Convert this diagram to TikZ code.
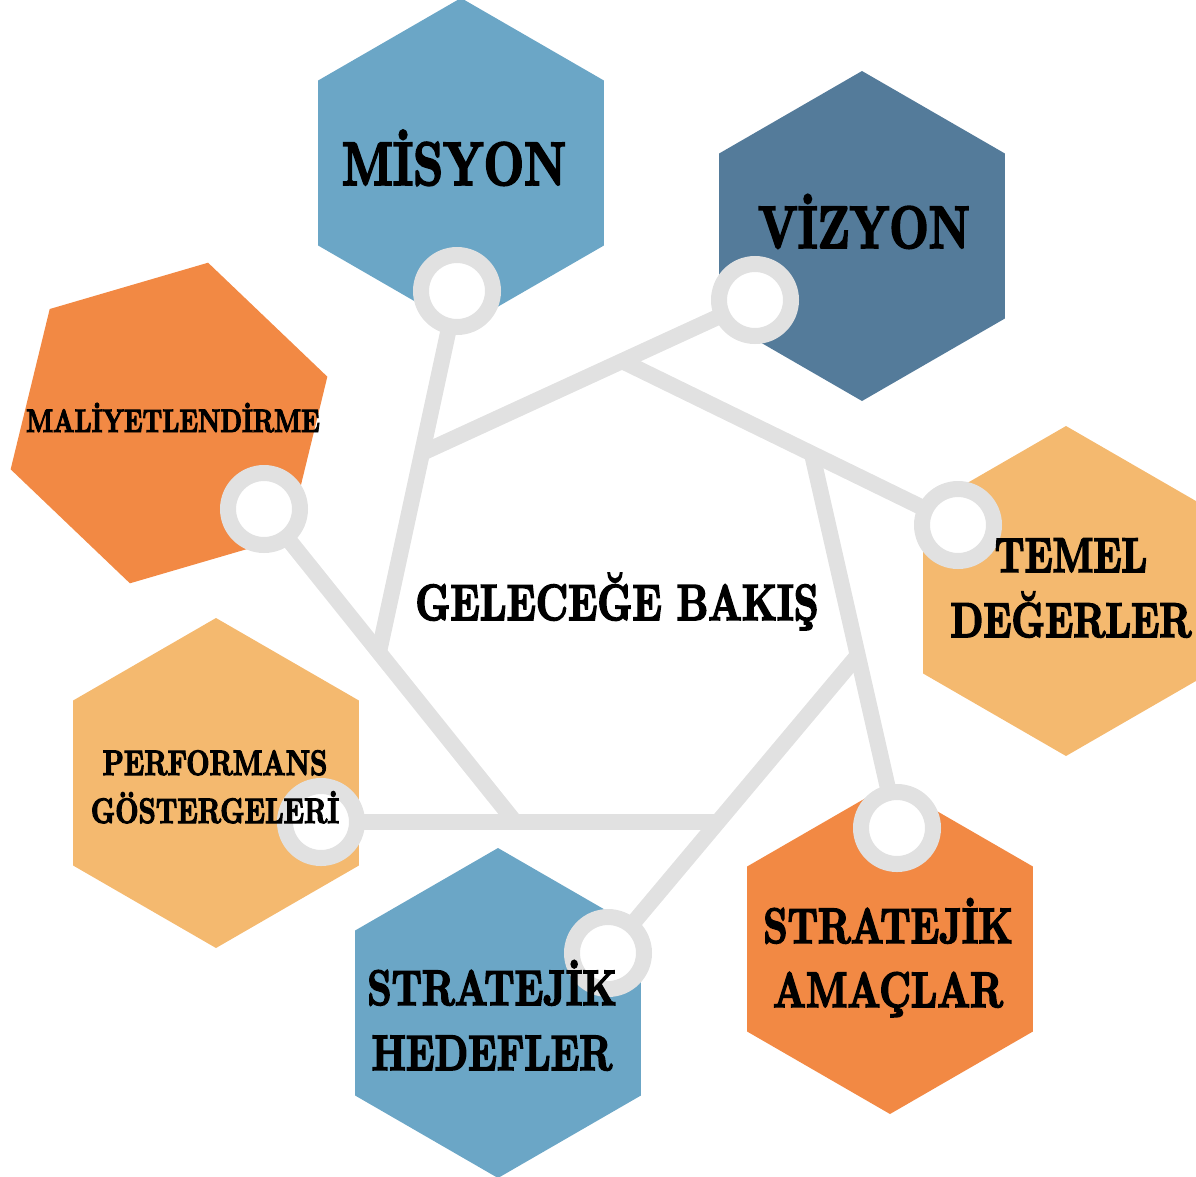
\documentclass[tikz,border=0pt]{standalone}
\usepackage{fontspec}
\usetikzlibrary{shapes.geometric}
\newfontfamily\playfair{lmroman10-bold.otf}[FakeStretch=0.76,FakeBold=3]
\definecolor{hexblue}{HTML}{6BA6C6}
\definecolor{hexnavy}{HTML}{547B9A}
\definecolor{hexsand}{HTML}{F4B96F}
\definecolor{hexorange}{HTML}{F28944}
\definecolor{linegrey}{HTML}{E1E1E1}
\begin{document}
\begin{tikzpicture}[x=1pt,y=-1pt,
	hexa/.style={regular polygon,regular polygon sides=6,shape border rotate=30,minimum size=330pt,inner sep=0pt,outer sep=0pt},
	ring/.style={circle,draw=linegrey,line width=16pt,fill=white,minimum size=72pt,inner sep=0pt},
	bar/.style={draw=linegrey,line width=16pt},
	lbl/.style={font=\playfair,align=center,inner sep=0pt,anchor=base}]
	\useasboundingbox (0,0) rectangle (1196,1176);
	
	% hexagons
	\node[hexa,fill=hexblue] (misyon-hex) at (461,163) {};
	\node[hexa,fill=hexnavy] (vizyon-hex) at (862,236) {};
	\node[hexa,fill=hexsand] (temel-hex) at (1066,591) {};
	\node[hexa,fill=hexorange] (amac-hex) at (890,949) {};
	\node[hexa,fill=hexblue] (hedef-hex) at (498,1013) {};
	\node[hexa,fill=hexsand] (perf-hex) at (216,783) {};
	\node[hexa,fill=hexorange,shape border rotate=16.3] (maliyet-hex) at (169,423) {};
	
	% ring centres
	\coordinate (misyon) at (457,291);
	\coordinate (vizyon) at (755,300);
	\coordinate (temel) at (958,525);
	\coordinate (amac) at (897,828);
	\coordinate (hedef) at (608,953);
	\coordinate (perf) at (321,822);
	\coordinate (maliyet) at (264,509);
	
	% corners of the middle
	\coordinate (A) at (622,361);
	\coordinate (B) at (812,454);
	\coordinate (C) at (858,655);
	\coordinate (D) at (718,822);
	\coordinate (E) at (515,822);
	\coordinate (F) at (379,652);
	\coordinate (G) at (422,453);
	
	\draw[bar] (G) -- (vizyon);
	\draw[bar] (A) -- (temel);
	\draw[bar] (B) -- (amac);
	\draw[bar] (C) -- (hedef);
	\draw[bar] (D) -- (perf);
	\draw[bar] (E) -- (maliyet);
	\draw[bar] (F) -- (misyon);
	
	\node[ring] (misyon-ring) at (misyon) {};
	\node[ring] (vizyon-ring) at (vizyon) {};
	\node[ring] (temel-ring) at (temel) {};
	\node[ring] (amac-ring) at (amac) {};
	\node[ring] (hedef-ring) at (hedef) {};
	\node[ring] (perf-ring) at (perf) {};
	\node[ring] (maliyet-ring) at (maliyet) {};
	
	% texts (two-line ones sit on their last line)
	\node[lbl,font=\playfair\fontsize{61.5}{80}\selectfont] (misyon-txt) at (454,185) {MİSYON};
	\node[lbl,font=\playfair\fontsize{60}{78}\selectfont] (vizyon-txt) at (864,248) {VİZYON};
	\node[lbl,font=\playfair\fontsize{51}{66}\selectfont] (center-txt) at (617,620) {GELECEĞE BAKIŞ};
	\node[lbl,font=\playfair\fontsize{49}{65}\selectfont] (temel-txt) at (1071,637) {TEMEL\\DEĞERLER};
	\node[lbl,font=\playfair\fontsize{50}{64}\selectfont] (amac-txt) at (888,1007) {STRATEJİK\\AMAÇLAR};
	\node[lbl,font=\playfair\fontsize{50}{65}\selectfont] (hedef-txt) at (492,1070) {STRATEJİK\\HEDEFLER};
	\node[lbl,font=\playfair\fontsize{35.5}{48}\selectfont] (perf-txt) at (215,823) {PERFORMANS\\GÖSTERGELERİ};
	\node[lbl,font=\playfair\fontsize{32.5}{42}\selectfont] (maliyet-txt) at (173,432) {MALİYETLENDİRME};
\end{tikzpicture}
\end{document}
